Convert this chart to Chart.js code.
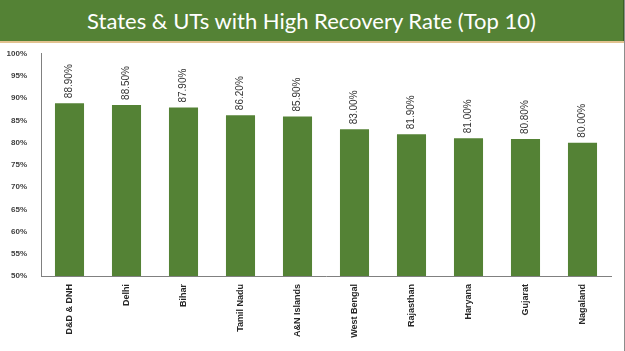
<!DOCTYPE html>
<html>
<head>
<meta charset="utf-8">
<script src="https://cdn.jsdelivr.net/npm/chart.js@4.4.0/dist/chart.umd.min.js"></script>
<style>
  html, body { margin: 0; padding: 0; background: #fff; }
  #wrap { position: relative; width: 625px; height: 351px; overflow: hidden; background: #fff; }
  #title { position: absolute; left: 0; top: 0; width: 623px; height: 41px; background: #548235;
    border-right: 1px solid #3b6124; color: #fff; font-family: Lato, "Open Sans", sans-serif; font-size: 22px;
    text-align: center; line-height: 41px; }
  #rule { position: absolute; left: 0; top: 41px; width: 624px; height: 2px; background: #E2C28F; }
  #edge { position: absolute; left: 624px; top: 0; width: 1px; height: 351px; background: #8c8c8c; }
  #cv { position: absolute; left: 0; top: 43px; }
</style>
</head>
<body>
<div id="wrap">
  <div id="title">States &amp; UTs with High Recovery Rate (Top 10)</div>
  <div id="rule"></div>
  <div id="edge"></div>
  <canvas id="cv" width="624" height="308"></canvas>
</div>
<script>
const categories = ["D&D & DNH", "Delhi", "Bihar", "Tamil Nadu", "A&N Islands", "West Bengal", "Rajasthan", "Haryana", "Gujarat", "Nagaland"];
const recoveryRate = [88.9, 88.5, 87.9, 86.2, 85.9, 83.0, 81.9, 81.0, 80.8, 80.0];
const yTicks = [50, 55, 60, 65, 70, 75, 80, 85, 90, 95, 100];

const valueLabels = {
  id: 'valueLabels',
  afterDatasetsDraw(chart) {
    const ctx = chart.ctx;
    const meta = chart.getDatasetMeta(0);
    ctx.save();
    ctx.font = '10px "Liberation Sans Narrow", "Liberation Sans", Arial, sans-serif';
    ctx.fillStyle = '#333333';
    ctx.textAlign = 'left';
    ctx.textBaseline = 'middle';
    meta.data.forEach((bar, i) => {
      ctx.save();
      ctx.translate(bar.x, bar.y - 5);
      ctx.rotate(-Math.PI / 2);
      ctx.fillText(recoveryRate[i].toFixed(2) + '%', 0, 0);
      ctx.restore();
    });
    ctx.restore();
  }
};

new Chart(document.getElementById('cv'), {
  type: 'bar',
  data: {
    labels: categories,
    datasets: [{
      data: recoveryRate,
      backgroundColor: '#548235',
      borderWidth: 0,
      barPercentage: 0.51,
      categoryPercentage: 1.0
    }]
  },
  options: {
    responsive: false,
    animation: false,
    layout: { padding: { top: 8, right: 13, left: 0, bottom: 0 } },
    plugins: { legend: { display: false }, tooltip: { enabled: false }, title: { display: false } },
    scales: {
      x: {
        grid: { display: false },
        border: { display: true, color: '#808080', width: 1 },
        ticks: {
          autoSkip: false,
          minRotation: 90, maxRotation: 90,
          padding: 0,
          color: '#262626',
          font: { family: '"Liberation Sans", Arial, sans-serif', size: 9, weight: 'bold' }
        },
        afterFit(scale) { scale.height = 75; }
      },
      y: {
        min: 50, max: 100,
        afterBuildTicks(scale) { scale.ticks = yTicks.map(v => ({ value: v })); },
        grid: { display: false },
        border: { display: true, color: '#808080', width: 1 },
        ticks: {
          padding: 6,
          color: '#404040',
          font: { family: '"Liberation Sans", Arial, sans-serif', size: 8, weight: 'bold' },
          callback: v => v + '%'
        },
        afterFit(scale) { scale.width = 41; }
      }
    }
  },
  plugins: [valueLabels]
});
</script>
</body>
</html>
